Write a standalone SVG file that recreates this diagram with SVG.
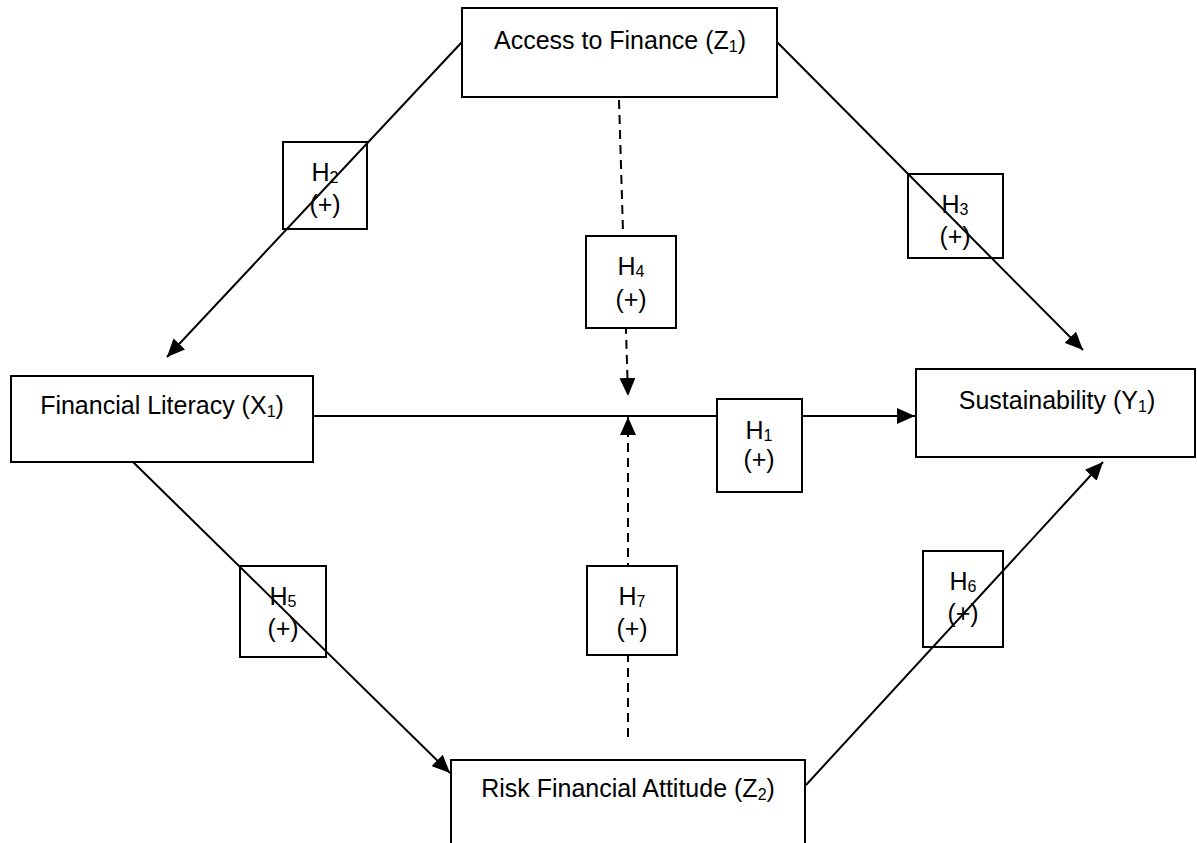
<svg xmlns="http://www.w3.org/2000/svg" width="1197" height="843" viewBox="0 0 1197 843">
<style>
.box{fill:#fff;stroke:#000;stroke-width:2}
.ln{fill:none;stroke:#000;stroke-width:2}
.dash{fill:none;stroke:#000;stroke-width:2;stroke-dasharray:9 6}
text{font-family:"Liberation Sans",Arial,sans-serif;font-size:25px;fill:#000}
.c{text-anchor:middle}
.sub{font-size:16px}
</style>
<defs>
<marker id="ah" markerUnits="userSpaceOnUse" markerWidth="20" markerHeight="16" refX="18" refY="8" orient="auto">
<path d="M0,0 L18,8 L0,16 Z" fill="#000"/>
</marker>
</defs>
<rect width="1197" height="843" fill="#fff"/>
<g id="connectors">
<line class="ln" x1="462" y1="42" x2="167" y2="357" marker-end="url(#ah)"/>
<line class="ln" x1="777" y1="42" x2="1083" y2="350" marker-end="url(#ah)"/>
<line class="ln" x1="313" y1="416" x2="915" y2="416" marker-end="url(#ah)"/>
<line class="ln" x1="133" y1="462" x2="450" y2="773" marker-end="url(#ah)"/>
<line class="ln" x1="806" y1="785" x2="1103" y2="462" marker-end="url(#ah)"/>
<line class="dash" x1="619" y1="100" x2="628" y2="396" marker-end="url(#ah)"/>
<line class="dash" x1="628" y1="737" x2="628" y2="417" marker-end="url(#ah)"/>
</g>
<g id="access">
<rect class="box" x="462" y="8" width="315" height="89"/>
<text class="c" x="620" y="49">Access to Finance (Z<tspan class="sub" dy="3">1</tspan><tspan dy="-3">)</tspan></text>
</g>
<g id="literacy">
<rect class="box" x="11" y="376" width="302" height="86"/>
<text class="c" x="162" y="414">Financial Literacy (X<tspan class="sub" dy="3">1</tspan><tspan dy="-3">)</tspan></text>
</g>
<g id="sustainability">
<rect class="box" x="916" y="369" width="279" height="88"/>
<text class="c" x="1057" y="409">Sustainability (Y<tspan class="sub" dy="3">1</tspan><tspan dy="-3">)</tspan></text>
</g>
<g id="risk">
<rect class="box" x="451" y="760" width="354" height="100"/>
<text class="c" x="628" y="797">Risk Financial Attitude (Z<tspan class="sub" dy="3">2</tspan><tspan dy="-3">)</tspan></text>
</g>
<g id="h1">
<rect class="box" x="717" y="399" width="85" height="93"/>
<text class="c" x="759" y="439">H<tspan class="sub" dy="2">1</tspan></text>
<text class="c" x="759" y="468">(+)</text>
</g>
<g id="h2">
<rect class="box" x="283" y="142" width="84" height="87" style="fill:none"/>
<text class="c" x="325" y="181">H<tspan class="sub" dy="2">2</tspan></text>
<text class="c" x="325" y="213">(+)</text>
</g>
<g id="h3">
<rect class="box" x="908" y="174" width="95" height="84" style="fill:none"/>
<text class="c" x="955" y="213">H<tspan class="sub" dy="2">3</tspan></text>
<text class="c" x="955" y="245">(+)</text>
</g>
<g id="h4">
<rect class="box" x="586" y="236" width="90" height="92"/>
<text class="c" x="631" y="275">H<tspan class="sub" dy="2">4</tspan></text>
<text class="c" x="631" y="308">(+)</text>
</g>
<g id="h5">
<rect class="box" x="240" y="566" width="86" height="91" style="fill:none"/>
<text class="c" x="283" y="605">H<tspan class="sub" dy="2">5</tspan></text>
<text class="c" x="283" y="637">(+)</text>
</g>
<g id="h6">
<rect class="box" x="923" y="551" width="80" height="96" style="fill:none"/>
<text class="c" x="963" y="590">H<tspan class="sub" dy="2">6</tspan></text>
<text class="c" x="963" y="622">(+)</text>
</g>
<g id="h7">
<rect class="box" x="587" y="566" width="90" height="89"/>
<text class="c" x="632" y="605">H<tspan class="sub" dy="2">7</tspan></text>
<text class="c" x="632" y="637">(+)</text>
</g>
</svg>
